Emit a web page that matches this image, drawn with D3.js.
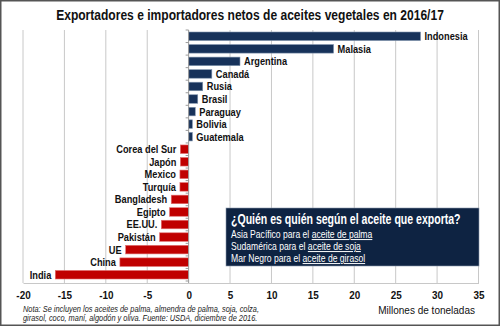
<!DOCTYPE html>
<html>
<head>
<meta charset="utf-8">
<script src="https://cdn.jsdelivr.net/npm/d3@7"></script>
<style>
  body { margin: 0; background: #fff; }
  svg text { font-family: "Liberation Sans", Arial, sans-serif; }
</style>
</head>
<body>
<script>
// net exports (+) and imports (-) of vegetable oils, million tonnes, 2016/17
var countries = ["Indonesia", "Malasia", "Argentina", "Canadá", "Rusia", "Brasil", "Paraguay", "Bolivia", "Guatemala",
  "Corea del Sur", "Japón", "Mexico", "Turquía", "Bangladesh", "Egipto", "EE.UU.", "Pakistán", "UE", "China", "India"];
var netValues = [28.0, 17.5, 6.2, 2.8, 1.7, 1.1, 0.8, 0.45, 0.45,
  -1.0, -1.0, -1.05, -1.05, -2.1, -2.3, -3.3, -3.5, -7.6, -8.3, -16.1];
var xTicks = [-20, -15, -10, -5, 0, 5, 10, 15, 20, 25, 30, 35];

var titleText = "Exportadores e importadores netos de aceites vegetales en 2016/17";
var boxTitle = "¿Quién es quién según el aceite que exporta?";
var boxLines = [
  ["Asia Pacífico para el ", "aceite de palma"],
  ["Sudamérica para el ", "aceite de soja"],
  ["Mar Negro para el ", "aceite de girasol"]
];
var noteLines = [
  "Nota: Se incluyen los aceites de palma, almendra de palma, soja, colza,",
  "girasol, coco, maní, algodón y oliva. Fuente: USDA, diciembre de 2016."
];
var unitLabel = "Millones de toneladas";

var W = 500, H = 326;
var plot = { left: 23, right: 478.5, top: 30, bottom: 281 };

// squeeze text horizontally to mimic a narrower typeface
function condense(sel, factor) {
  sel.each(function () {
    var w = this.getComputedTextLength();
    d3.select(this)
      .attr("textLength", w * factor)
      .attr("lengthAdjust", "spacingAndGlyphs");
  });
}

// a text squeezed to a given width by scaling its group
function narrowText(parent, tx, ty, width, anchor) {
  var g = parent.append("g");
  var t = g.append("text").attr("text-anchor", anchor || "start");
  return {
    text: t,
    fit: function () {
      var w = t.node().getComputedTextLength();
      g.attr("transform", "translate(" + tx + "," + ty + ") scale(" + Math.min(1, width / w) + ",1)");
    }
  };
}

var svg = d3.select("body").append("svg")
  .attr("width", W)
  .attr("height", H);

// outer frame
svg.append("rect")
  .attr("x", 0.75).attr("y", 0.75)
  .attr("width", W - 1.5).attr("height", H - 1.5)
  .attr("fill", "#fff")
  .attr("stroke", "#555")
  .attr("stroke-width", 1.5);

var x = d3.scaleLinear()
  .domain([-20, 35])
  .range([plot.left, plot.right]);

var y = d3.scaleBand()
  .domain(countries)
  .range([plot.top, plot.bottom])
  .paddingInner(0.32)
  .paddingOuter(0.16);

// title
var title = narrowText(svg, W / 2, 20, 388, "middle");
title.text
  .style("font-weight", "bold")
  .style("font-size", "15.5px")
  .attr("fill", "#111")
  .text(titleText);
title.fit();

// vertical gridlines
svg.append("g")
  .selectAll("line")
  .data(xTicks.filter(function (d) { return d !== 0; }))
  .enter()
  .append("line")
  .attr("x1", function (d) { return x(d); })
  .attr("x2", function (d) { return x(d); })
  .attr("y1", plot.top)
  .attr("y2", plot.bottom + 2)
  .attr("stroke", "#c8c8c8")
  .attr("stroke-width", 1);

// bottom axis line and tick labels
var xAxis = d3.axisBottom(x)
  .tickValues(xTicks)
  .tickFormat(function (d) { return String(d); })
  .tickSize(0)
  .tickPadding(8);

var gx = svg.append("g")
  .attr("transform", "translate(0," + (plot.bottom + 2) + ")")
  .call(xAxis);
gx.select(".domain").attr("stroke", "#c8c8c8");
gx.selectAll("text")
  .style("font-family", "'Liberation Sans', sans-serif")
  .style("font-weight", "bold")
  .style("font-size", "11px")
  .attr("fill", "#111")
  .call(condense, 0.9);

// bars
var barColor = function (v) { return v >= 0 ? "#17325a" : "#c00000"; };
var barEdge = function (v) { return v >= 0 ? "#7f93ad" : "#e07070"; };

svg.append("g")
  .selectAll("rect")
  .data(countries)
  .enter()
  .append("rect")
  .attr("x", function (d, i) { return x(Math.min(0, netValues[i])); })
  .attr("y", function (d) { return y(d); })
  .attr("width", function (d, i) { return Math.abs(x(netValues[i]) - x(0)); })
  .attr("height", y.bandwidth())
  .attr("fill", function (d, i) { return barColor(netValues[i]); })
  .attr("stroke", function (d, i) { return barEdge(netValues[i]); })
  .attr("stroke-width", 0.6);

// zero axis with small ticks between categories
var zx = x(0);
svg.append("line")
  .attr("x1", zx).attr("x2", zx)
  .attr("y1", plot.top).attr("y2", plot.bottom + 2)
  .attr("stroke", "#9a9a9a")
  .attr("stroke-width", 1);

var step = y.step();
svg.append("g")
  .selectAll("line")
  .data(d3.range(countries.length + 1))
  .enter()
  .append("line")
  .attr("x1", zx - 3).attr("x2", zx)
  .attr("y1", function (i) { return plot.top + i * step; })
  .attr("y2", function (i) { return plot.top + i * step; })
  .attr("stroke", "#9a9a9a")
  .attr("stroke-width", 1);

// category labels beside the bar ends
svg.append("g")
  .selectAll("text")
  .data(countries)
  .enter()
  .append("text")
  .attr("x", function (d, i) {
    var v = netValues[i];
    return v >= 0 ? x(v) + 4 : x(v) - 4;
  })
  .attr("y", function (d) { return y(d) + y.bandwidth() / 2; })
  .attr("dy", "0.36em")
  .attr("text-anchor", function (d, i) { return netValues[i] >= 0 ? "start" : "end"; })
  .style("font-weight", "bold")
  .style("font-size", "11px")
  .attr("fill", "#111")
  .text(function (d) { return d; })
  .call(condense, 0.84);

// info box
var box = svg.append("g").attr("transform", "translate(226,208)");
box.append("rect")
  .attr("width", 253)
  .attr("height", 58)
  .attr("fill", "#0e2342")
  .attr("stroke", "#8a98ab")
  .attr("stroke-width", 0.6);

var boxHead = narrowText(box, 5, 16, 230, "start");
boxHead.text
  .style("font-weight", "bold")
  .style("font-size", "14px")
  .attr("fill", "#fff")
  .text(boxTitle);
boxHead.fit();

// body lines, narrowed as a group so the underlined part stays attached
var boxBody = box.append("g").attr("transform", "translate(5,0) scale(0.86,1)");
boxBody.selectAll(".line")
  .data(boxLines)
  .enter()
  .append("text")
  .attr("class", "line")
  .attr("x", 0)
  .attr("y", function (d, i) { return 30 + i * 12; })
  .style("font-size", "10px")
  .attr("fill", "#fff")
  .each(function (d) {
    var t = d3.select(this);
    t.append("tspan").text(d[0]);
    t.append("tspan").style("text-decoration", "underline").text(d[1]);
  });

// unit label
var unit = narrowText(svg, 475, 314, 97, "end");
unit.text
  .style("font-size", "11.5px")
  .attr("fill", "#111")
  .text(unitLabel);
unit.fit();

// source note
svg.append("g")
  .selectAll("text")
  .data(noteLines)
  .enter()
  .append("text")
  .attr("x", 23)
  .attr("y", function (d, i) { return 311.5 + i * 9.8; })
  .style("font-style", "italic")
  .style("font-size", "8.5px")
  .attr("fill", "#222")
  .text(function (d) { return d; })
  .call(condense, 0.87);
</script>
</body>
</html>
